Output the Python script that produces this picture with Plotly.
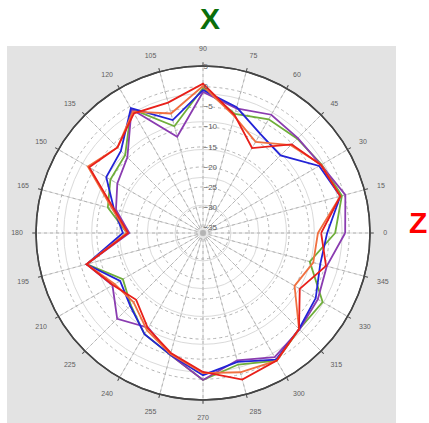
import plotly.graph_objects as go

angles = [0, 15, 30, 45, 60, 75, 90, 105, 120, 135, 150, 165,
          180, 195, 210, 225, 240, 255, 270, 285, 300, 315, 330, 345]

red = [-7.0, -1.0, -2.5, -5.2, -12.0, -6.0, 0.8, -2.8, -2.0, -6.3, -3.7, -13.5,
       -17.8, -6.4, -10.5, -12.9, -9.0, -5.5, -1.8, 1.4, 0.3, -2.6, -8.6, -4.7]
orange = [-7.8, -1.0, -2.4, -5.5, -10.2, -6.3, 0.2, -5.6, -1.5, -6.3, -3.3, -13.0,
          -17.5, -6.4, -11.0, -12.0, -8.5, -5.2, -1.5, -0.5, 0.3, -2.6, -10.1, -8.0]
blue = [-5.5, -1.0, -3.0, -9.1, -7.9, -4.0, -0.8, -7.3, -0.5, -7.5, -8.6, -13.5,
        -16.5, -6.4, -12.6, -10.8, -7.3, -5.0, -1.0, -3.2, 0.0, -2.6, -4.0, -6.2]
green = [-3.5, -0.6, -2.3, -3.2, -3.7, -5.7, -0.3, -8.9, -0.7, -9.0, -9.8, -11.9,
         -17.5, -6.4, -13.4, -11.0, -7.3, -5.0, 0.2, -2.5, 0.3, -2.5, -2.0, -8.9]
purple = [-1.0, 0.3, -2.5, -3.0, -2.4, -4.3, -1.3, -11.6, -0.8, -9.8, -11.8, -14.0,
          -18.1, -6.4, -10.4, -6.2, -9.2, -5.0, 0.2, -3.6, -0.7, -2.4, -3.4, -4.5]

radial_ticks = [-35, -30, -25, -20, -15, -10, -5, 0, 5]
angle_ticks = list(range(0, 360, 15))

series = [
    ("green", green, "#6fae3a"),
    ("purple", purple, "#8a3cb0"),
    ("blue", blue, "#2323d6"),
    ("orange", orange, "#f07040"),
    ("red", red, "#e8201a"),
]

fig = go.Figure()

# background polar providing solid grid
fig.add_trace(go.Scatterpolar(r=[0], theta=[0], mode="markers",
                              marker=dict(size=1, color="rgba(0,0,0,0)"),
                              subplot="polar", showlegend=False, hoverinfo="skip"))

for name, vals, col in series:
    fig.add_trace(go.Scatterpolar(
        r=vals + vals[:1], theta=angles + angles[:1], mode="lines",
        line=dict(color=col, width=1.8), name=name, subplot="polar2",
        showlegend=False))

dom_x = [36 / 429, 370 / 429]
dom_y = [23 / 423, 357 / 423]

fig.update_layout(
    width=429, height=423,
    margin=dict(l=0, r=0, t=0, b=0),
    paper_bgcolor="white",
    showlegend=False,
    shapes=[dict(type="rect", xref="paper", yref="paper",
                 x0=7 / 429, x1=396 / 429, y0=0, y1=1 - 46 / 423,
                 fillcolor="#e3e3e3", line=dict(width=0), layer="below")],
    polar=dict(
        domain=dict(x=dom_x, y=dom_y),
        bgcolor="white",
        radialaxis=dict(range=[0, 6], tickvals=[1, 2, 3, 4, 5],
                        showticklabels=False, ticks="", showline=False,
                        gridcolor="#dadada", gridwidth=1),
        angularaxis=dict(rotation=0, direction="counterclockwise",
                         tickvals=angle_ticks, showticklabels=False,
                         ticks="outside", ticklen=3, tickcolor="#444",
                         gridcolor="#dadada", gridwidth=1,
                         showline=True, linecolor="#444", linewidth=1.5),
    ),
    polar2=dict(
        domain=dict(x=dom_x, y=dom_y),
        bgcolor="rgba(0,0,0,0)",
        radialaxis=dict(range=[-36.5, 5.2], tickvals=radial_ticks,
                        angle=90, tickangle=90, side="clockwise",
                        showline=False, ticks="",
                        gridcolor="#b4b4b4", griddash="dot", gridwidth=0.8,
                        tickfont=dict(family="Arial", size=8, color="#606060")),
        angularaxis=dict(rotation=0, direction="counterclockwise",
                         tickvals=angle_ticks,
                         ticktext=[str(a) for a in angle_ticks],
                         ticks="outside", ticklen=11, tickcolor="rgba(0,0,0,0)",
                         gridcolor="#b4b4b4", griddash="dot", gridwidth=0.8,
                         showline=True, linecolor="#444", linewidth=1.5,
                         tickfont=dict(family="Arial", size=7, color="#606060")),
    ),
    annotations=[
        dict(text="<b>X</b>", x=210 / 429, y=1 - 19 / 423, xref="paper", yref="paper",
             xanchor="center", yanchor="middle",
             showarrow=False, font=dict(family="Arial", size=30, color="#0a6e0a")),
        dict(text="<b>Z</b>", x=418 / 429, y=1 - 222 / 423, xref="paper", yref="paper",
             xanchor="center", yanchor="middle",
             showarrow=False, font=dict(family="Arial", size=30, color="#ff0000")),
    ],
)

fig.write_html("out.html", config={"displayModeBar": False},
               post_script="document.body.style.margin='0px';document.body.style.overflow='hidden';")
